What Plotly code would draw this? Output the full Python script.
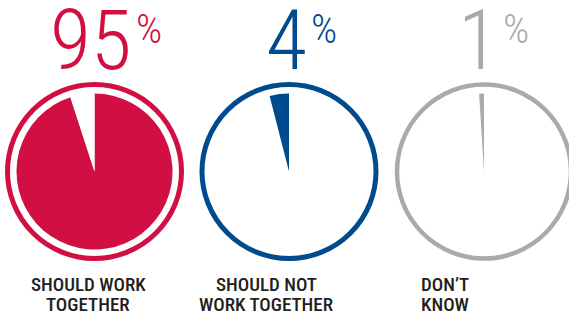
import plotly.graph_objects as go

# ---- data ----
categories = ["SHOULD WORK<br>TOGETHER", "SHOULD NOT<br>WORK TOGETHER", "DON\u2019T<br>KNOW"]
percents = [95, 4, 1]

# ---- styling / layout ----
colors = ["#d20f43", "#004b8d", "#a9aaad"]
slice_first = [True, False, False]   # coloured slice first (clockwise from 12 o'clock) or last
W, H = 569, 315
centers_x = [94.5, 289, 484]      # pixel centres of the circles
center_y = 143.5                   # from bottom
pie_r = 78
ring_r = 87
ring_w = [5, 5, 4.5]
label_cx = [88, 266, 445]
label_line_y = [284.5, 304.5]      # from top (cap centres)
num_x = [134, 309, 501]            # boundary between number and % sign
num_font = "Roboto Condensed"
lab_font = "Roboto Condensed"
text_color = "#231f20"

fig = go.Figure()
shapes = []
annotations = []
for i, (cat, p) in enumerate(zip(categories, percents)):
    cx = centers_x[i]
    vals = [p, 100 - p]
    cols = [colors[i], "white"]
    labs = [cat.replace("<br>", " "), "other"]
    if not slice_first[i]:
        vals, cols, labs = vals[::-1], cols[::-1], labs[::-1]
    fig.add_trace(go.Pie(
        values=vals,
        labels=labs,
        marker=dict(colors=cols, line=dict(width=0)),
        sort=False,
        direction="clockwise",
        rotation=0,
        textinfo="none",
        hoverinfo="skip",
        showlegend=False,
        domain=dict(x=[(cx - pie_r) / W, (cx + pie_r) / W],
                    y=[(center_y - pie_r) / H, (center_y + pie_r) / H]),
    ))
    shapes.append(dict(
        type="circle", xref="paper", yref="paper",
        x0=(cx - ring_r) / W, x1=(cx + ring_r) / W,
        y0=(center_y - ring_r) / H, y1=(center_y + ring_r) / H,
        line=dict(color=colors[i], width=ring_w[i]),
        fillcolor="rgba(0,0,0,0)", layer="above",
    ))
    annotations.append(dict(
        text=str(p), xref="paper", yref="paper",
        x=num_x[i] / W, y=1 - 40 / H, xanchor="right", yanchor="middle",
        showarrow=False,
        font=dict(family=num_font, size=84, color=colors[i], weight=300),
    ))
    annotations.append(dict(
        text="%", xref="paper", yref="paper",
        x=num_x[i] / W, y=1 - 29 / H, xanchor="left", yanchor="middle",
        showarrow=False,
        font=dict(family=num_font, size=41, color=colors[i], weight=300),
    ))
    for j, line in enumerate(cat.split("<br>")):
        annotations.append(dict(
            text=line, xref="paper", yref="paper",
            x=label_cx[i] / W, y=1 - label_line_y[j] / H,
            xanchor="center", yanchor="middle",
            showarrow=False, align="center",
            font=dict(family=lab_font, size=19, color=text_color, weight=500),
        ))

fig.update_layout(
    width=W, height=H,
    margin=dict(l=0, r=0, t=0, b=0),
    paper_bgcolor="white", plot_bgcolor="white",
    shapes=shapes, annotations=annotations,
)
fig.write_html("out.html", config={"displayModeBar": False},
               post_script="document.body.style.margin='0';")
